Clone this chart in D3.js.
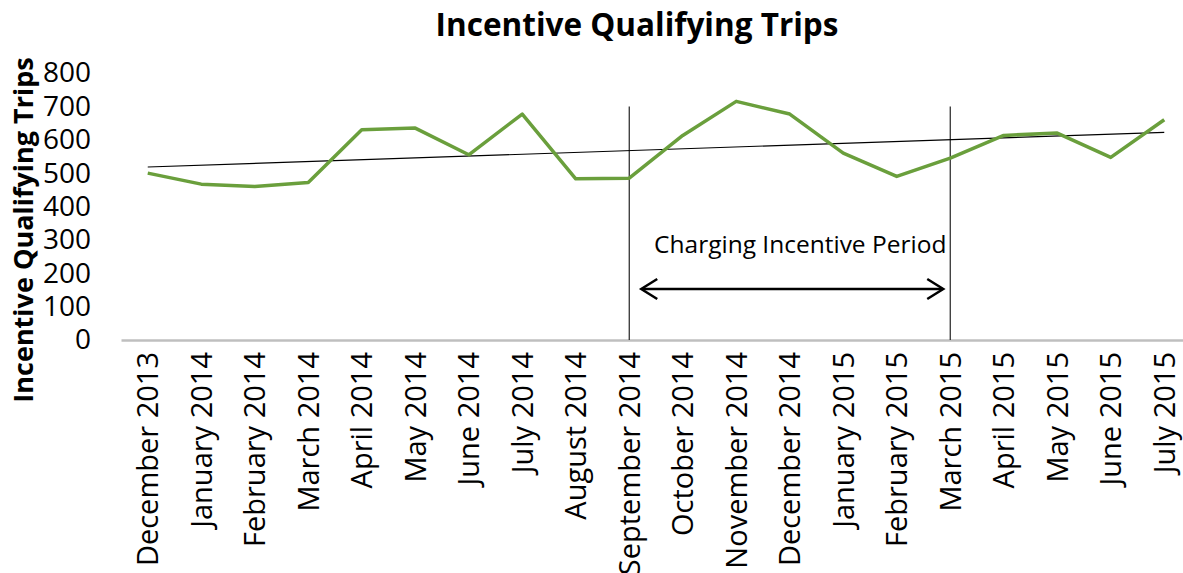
<!DOCTYPE html>
<html>
<head>
<meta charset="utf-8">
<script src="https://cdn.jsdelivr.net/npm/d3@7"></script>
<style>
  body { margin: 0; background: #fff; overflow: hidden; }
  text { font-family: "Open Sans", sans-serif; fill: #000; }
</style>
</head>
<body>
<script>
// months on the x axis
const months = [
	"December 2013", "January 2014", "February 2014", "March 2014", "April 2014",
	"May 2014", "June 2014", "July 2014", "August 2014", "September 2014",
	"October 2014", "November 2014", "December 2014", "January 2015", "February 2015",
	"March 2015", "April 2015", "May 2015", "June 2015", "July 2015"
];
// trips per month
const trips = [
	500, 467, 460, 472, 630, 635, 555, 677, 483, 485,
	613, 715, 677, 560, 490, 545, 613, 620, 547, 660
];
const yTicks = [0, 100, 200, 300, 400, 500, 600, 700, 800];
// the charging incentive period
const periodStart = "September 2014";
const periodEnd = "March 2015";

const width = 1183;
const height = 573;
const margin = { top: 73, right: -8, bottom: 233, left: 121 };

const svg = d3
	.select("body")
	.append("svg")
	.attr("width", width)
	.attr("height", height);

const x = d3
	.scaleBand()
	.domain(months)
	.range([margin.left, width - margin.right]);
const cx = (m) => x(m) + x.bandwidth() / 2;

const y = d3
	.scaleLinear()
	.domain([0, 800])
	.range([height - margin.bottom, margin.top]);

// title
svg.append("text")
	.attr("x", 637)
	.attr("y", 36)
	.attr("text-anchor", "middle")
	.style("font-size", "31.5px")
	.style("font-weight", "bold")
	.text("Incentive Qualifying Trips");

// y axis (labels only)
const yAxis = svg
	.append("g")
	.attr("transform", `translate(${margin.left},0)`)
	.call(d3.axisLeft(y).tickValues(yTicks).tickSize(0).tickPadding(30));
yAxis.select(".domain").remove();
yAxis.selectAll("text")
	.style("font-family", "Open Sans, sans-serif")
	.style("font-size", "28px");

svg.append("text")
	.attr("transform", "translate(24,230) rotate(-90)")
	.attr("text-anchor", "middle")
	.attr("dy", "0.35em")
	.style("font-size", "27px")
	.style("font-weight", "bold")
	.text("Incentive Qualifying Trips");

// x axis
const xAxis = svg
	.append("g")
	.attr("transform", `translate(0,${y(0)})`)
	.call(d3.axisBottom(x).tickSize(0));
xAxis.select(".domain")
	.attr("stroke", "#bfbfbf")
	.attr("stroke-width", 2.5);
xAxis.selectAll("text")
	.style("font-family", "Open Sans, sans-serif")
	.style("font-size", "29px")
	.attr("text-anchor", "end")
	.attr("transform", "rotate(-90)")
	.attr("x", -12)
	.attr("y", 0)
	.attr("dy", "0.36em");

// period markers
[periodStart, periodEnd].forEach((m) => {
	svg.append("line")
		.attr("x1", cx(m))
		.attr("x2", cx(m))
		.attr("y1", y(700))
		.attr("y2", y(0))
		.attr("stroke", "#222")
		.attr("stroke-width", 1.2);
});

// trend line (least squares over the months)
const n = trips.length;
const meanX = (n - 1) / 2;
const meanY = d3.mean(trips);
let sxy = 0;
let sxx = 0;
trips.forEach((v, i) => {
	sxy += (i - meanX) * (v - meanY);
	sxx += (i - meanX) * (i - meanX);
});
const slope = sxy / sxx;
const icept = meanY - slope * meanX;

svg.append("line")
	.attr("x1", cx(months[0]))
	.attr("x2", cx(months[n - 1]))
	.attr("y1", y(icept))
	.attr("y2", y(icept + slope * (n - 1)))
	.attr("stroke", "#000")
	.attr("stroke-width", 1.2);

// series
const line = d3
	.line()
	.x((d, i) => cx(months[i]))
	.y((d) => y(d));

svg.append("path")
	.datum(trips)
	.attr("fill", "none")
	.attr("stroke", "#6a9f3c")
	.attr("stroke-width", 3.5)
	.attr("stroke-linejoin", "round")
	.attr("d", line);

// annotation
const ax1 = cx(periodStart) + 12;
const ax2 = cx(periodEnd) - 7;
const ay = 289;
svg.append("text")
	.attr("x", (ax1 + ax2) / 2 + 8)
	.attr("y", 253)
	.attr("text-anchor", "middle")
	.style("font-size", "24.5px")
	.text("Charging Incentive Period");

svg.append("line")
	.attr("x1", ax1 + 1)
	.attr("x2", ax2 - 1)
	.attr("y1", ay)
	.attr("y2", ay)
	.attr("stroke", "#000")
	.attr("stroke-width", 2.5);
[[ax1, 1], [ax2, -1]].forEach(([px, dir]) => {
	svg.append("path")
		.attr("d", `M${px + dir * 16},${ay - 10}L${px},${ay}L${px + dir * 16},${ay + 10}`)
		.attr("fill", "none")
		.attr("stroke", "#000")
		.attr("stroke-width", 2.5);
});
</script>
</body>
</html>
